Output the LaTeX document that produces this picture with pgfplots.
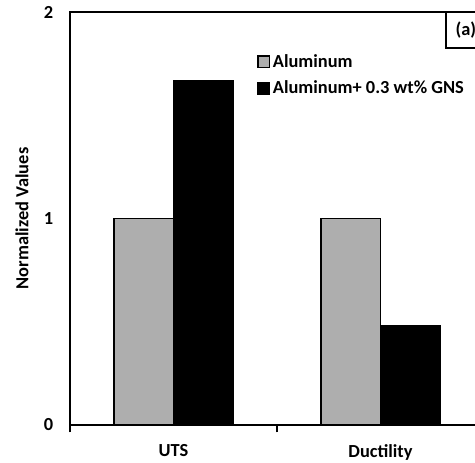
\documentclass[border=0pt]{standalone}
\usepackage{fontspec}
\setmainfont{Carlito}
\usepackage{pgfplots}
\pgfplotsset{compat=1.18}
\usetikzlibrary{calc}
\definecolor{barGray}{RGB}{174,174,174}
\begin{document}
\begin{tikzpicture}[font=\bfseries\fontsize{13.8pt}{16pt}\selectfont]
\begin{axis}[
  scale only axis, width=310.5pt, height=309.75pt,
  xmin=-0.5, xmax=1.5, ymin=0, ymax=2,
  ybar=0pt, bar width=44.5pt,
  axis line style={line width=1.1pt},
  xtick={0,1}, xticklabels={UTS, Ductility},
  xtick pos=bottom, ytick pos=left,
  major tick length=0pt,
  extra x ticks={-0.5,0.5}, extra x tick labels={},
  extra x tick style={major tick length=5.5pt, tick align=outside, xtick pos=bottom,
    tick style={line width=1.1pt, black}},
  xticklabel style={yshift=-11pt},
  ytick={0,1,2},
  yticklabel style={xshift=-9pt},
  /pgf/number format/assume math mode=true,
  ylabel={Normalized Values},
  ylabel style={at={(axis description cs:0,0.5)}, anchor=center, rotate=0, yshift=36pt},
  legend cell align=left,
  legend style={at={(rel axis cs:0.452,0.905)}, anchor=north west, draw=none, fill=none,
    row sep=5pt, inner sep=0pt},
  legend image code/.code={\draw[#1, draw=black, line width=1pt] (0pt,-4.3pt) rectangle (8.6pt,4.3pt);},
]
\addplot[fill=barGray, draw=black, line width=1.1pt] coordinates {(0,1) (1,1)};
\addplot[fill=black, draw=black, line width=1.1pt] coordinates {(0,1.667) (1,0.483)};
\legend{Aluminum, Aluminum+ 0.3 wt\% GNS}
\end{axis}
% panel tag in the upper right corner
\draw[line width=1.1pt] ($(current axis.north west)+(282pt,0pt)$) rectangle ($(current axis.north west)+(330pt,-27pt)$);
\node[anchor=west, inner sep=0pt] at ($(current axis.north west)+(289pt,-13.5pt)$) {(a)};
\pgfresetboundingbox
\useasboundingbox ($(current axis.south west)+(-52.5pt,-28.5pt)$) rectangle ($(current axis.north east)+(-6.75pt,9pt)$);
\end{tikzpicture}
\end{document}
